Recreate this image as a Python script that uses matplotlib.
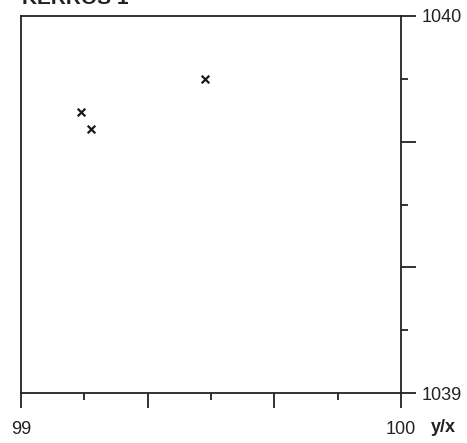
import matplotlib
matplotlib.use('Agg')
import matplotlib.pyplot as plt
import numpy as np

# data
x_vals = [99.158, 99.184, 99.484]
y_vals = [1039.745, 1039.700, 1039.833]
x_major = [99, 99 + 1/3, 99 + 2/3, 100]
x_minor = [99 + 1/6, 99.5, 99 + 5/6]
x_labels = ['99', '', '', '100']
y_major = [1039, 1039 + 1/3, 1039 + 2/3, 1040]
y_minor = [1039 + 1/6, 1039.5, 1039 + 5/6]
y_labels = ['1039', '', '', '1040']

plt.rcParams['font.family'] = ['Liberation Sans', 'DejaVu Sans']

fig = plt.figure(figsize=(4.67, 4.43), dpi=100, facecolor='white')
ax = fig.add_axes([21/467, 50/443, 380/467, 377/443])

ax.scatter(x_vals, y_vals, marker='x', s=30, color='#1a1a1a', linewidths=1.6, zorder=3)

ax.set_xlim(99, 100)
ax.set_ylim(1039, 1040)

for s in ax.spines.values():
    s.set_linewidth(1.3)
    s.set_color('#222222')

ax.set_xticks(x_major)
ax.set_xticks(x_minor, minor=True)
ax.set_xticklabels(x_labels)
ax.yaxis.tick_right()
ax.set_yticks(y_major)
ax.set_yticks(y_minor, minor=True)
ax.set_yticklabels(y_labels)

ax.tick_params(axis='x', which='major', direction='out', length=11, width=1.3,
               pad=9, labelsize=13, colors='#222222')
ax.tick_params(axis='x', which='minor', direction='out', length=5, width=1.3, colors='#222222')
ax.tick_params(axis='y', which='major', direction='out', length=11, width=1.3,
               pad=4, labelsize=13, colors='#222222')
ax.tick_params(axis='y', which='minor', direction='out', length=5, width=1.3, colors='#222222')

fig.text(443/467, 1 - 427/443, 'y/x', fontsize=13, fontweight='bold',
         ha='center', va='center', color='#222222')
fig.text(22/467, 1 - 4/443, 'KERROS 1', fontsize=15, fontweight='bold',
         ha='left', va='baseline', color='#222222')

fig.savefig('out.png', dpi=100)
